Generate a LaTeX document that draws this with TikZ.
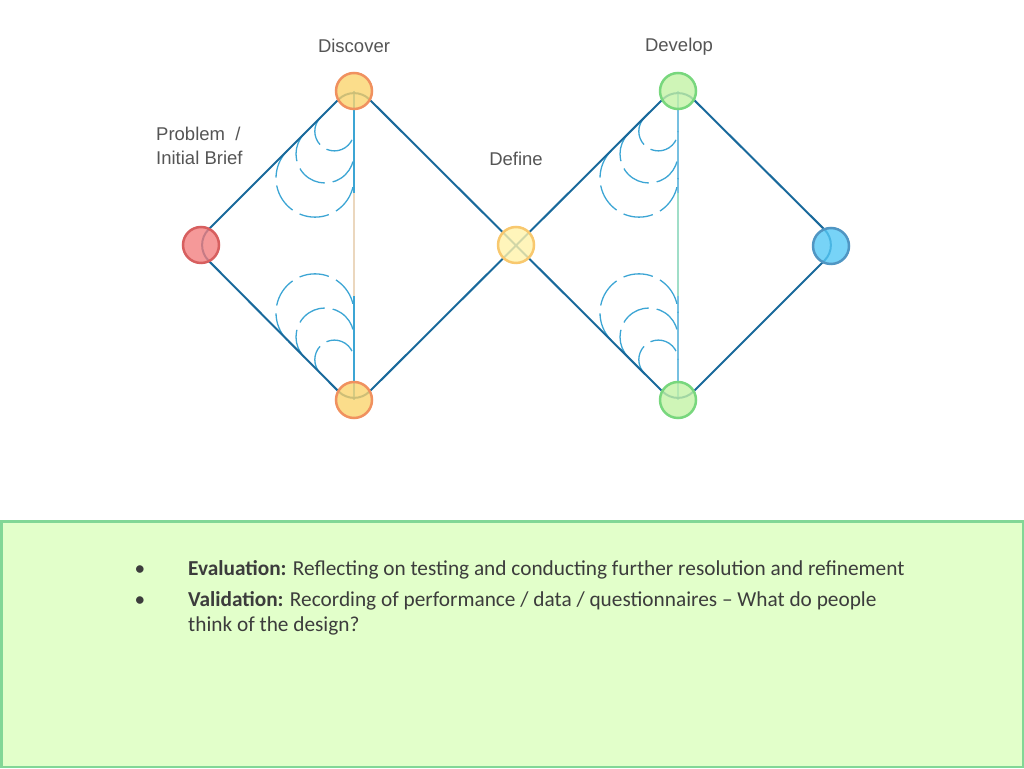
\documentclass[tikz,border=0pt]{standalone}
\usepackage{fontspec}
\setmainfont{Carlito}
\newfontfamily\labelfont{Liberation Sans}
\usetikzlibrary{calc,backgrounds}

\definecolor{pathblue}{RGB}{25,105,155}
\definecolor{arcblue}{RGB}{60,165,212}
\definecolor{beigeline}{RGB}{235,215,190}
\definecolor{mintline}{RGB}{160,222,200}
\definecolor{redfill}{RGB}{242,128,128}
\definecolor{redline}{RGB}{215,95,95}
\definecolor{ambfill}{RGB}{250,212,110}
\definecolor{ambline}{RGB}{240,145,95}
\definecolor{palefill}{RGB}{255,242,170}
\definecolor{paleline}{RGB}{248,200,110}
\definecolor{grnfill}{RGB}{195,242,165}
\definecolor{grnline}{RGB}{120,215,125}
\definecolor{bluefill}{RGB}{85,200,245}
\definecolor{blueline}{RGB}{80,150,195}
\definecolor{boxfill}{RGB}{226,255,202}
\definecolor{boxline}{RGB}{130,215,150}
\definecolor{labelgray}{RGB}{85,85,85}
\definecolor{textgray}{RGB}{60,60,60}

\begin{document}
\begin{tikzpicture}[x=1pt,y=1pt,
  stage/.style={circle, draw, line width=2.5pt, minimum size=36pt, inner sep=0pt, fill opacity=0.8},
  caption/.style={font=\labelfont\fontsize{18.5}{24}\selectfont, text=labelgray},
  swirl/.style={arcblue, line width=1.3pt, dash pattern=on 30pt off 8pt},
  bullettext/.style={font=\fontsize{21.3}{24}\selectfont, text=textgray, inner sep=0pt}]
\useasboundingbox (0,0) rectangle (1024,768);

% stages
\node[stage, fill=redfill, draw=redline] (brief) at (201,523) {};
\node[stage, fill=ambfill, draw=ambline] (discA) at (354,677) {};
\node[stage, fill=ambfill, draw=ambline] (discB) at (354,368) {};
\node[stage, fill=palefill, draw=paleline] (define) at (516,523) {};
\node[stage, fill=grnfill, draw=grnline] (devA) at (678,677) {};
\node[stage, fill=grnfill, draw=grnline] (devB) at (678,368) {};
\node[stage, fill=bluefill, draw=blueline] (deliver) at (831,522) {};

% corners of the double diamond
\coordinate (lft) at (193,523);
\coordinate (top1) at (354,684);
\coordinate (bot1) at (354,361);
\coordinate (top2) at (678,684);
\coordinate (bot2) at (678,361);
\coordinate (rgt) at (840,523);
\coordinate (gapA) at (354,575);
\coordinate (gapB) at (354,472);
\coordinate (gapC) at (678,575);
\coordinate (gapD) at (678,472);

\begin{scope}[on background layer]
\draw[line width=1.5pt, beigeline] (discA.center) -- (discB.center);
\draw[line width=1.5pt, mintline] (devA.center) -- (devB.center);
\draw[line width=1.5pt, arcblue] (discA.center) -- (gapA) (gapB) -- (discB.center);
\draw[line width=1.5pt, arcblue!70] (devA.center) -- (gapC) (gapD) -- (devB.center);

\foreach \vx in {354,678}{
  \foreach \r in {19.6,29,39}{
    \draw[swirl] ($(\vx,684)+(-\r,-2.414*\r)$) ++(135:\r) arc[start angle=135, end angle=360, radius=\r];
    \draw[swirl] ($(\vx,361)+(-\r,2.414*\r)$) ++(225:\r) arc[start angle=225, end angle=0, radius=\r];
  }
}

\draw[pathblue, line width=2pt, rounded corners=22pt] (lft) -- (top1) -- (bot2) -- (rgt) -- (top2) -- (bot1) -- cycle;
\end{scope}

% labels
\node[caption] (discLbl) at (354,722) {Discover};
\node[caption] (devLbl) at (679,721) {Develop};
\node[caption] (defLbl) at (516,609) {Define};
\node[caption, align=left, anchor=west, inner sep=0pt] (probLbl) at (156,622) {Problem\ \ /\\Initial Brief};

% notes box
\draw[line width=2.5pt, boxline, fill=boxfill] (1.25,1.25) rectangle (1022.75,246.5);
\node[bullettext, anchor=base] (dotA) at (140,192) {•};
\node[bullettext, anchor=base] (dotB) at (140,161) {•};
\node[bullettext, anchor=base west] (evalTxt) at (188,192) {\textbf{Evaluation:} Reflecting on testing and conducting further resolution and refinement};
\node[bullettext, anchor=base west, align=left] (validTxt) at (188,137) {\textbf{Validation:} Recording of performance / data / questionnaires -- What do people\\think of the design?};
\end{tikzpicture}
\end{document}
